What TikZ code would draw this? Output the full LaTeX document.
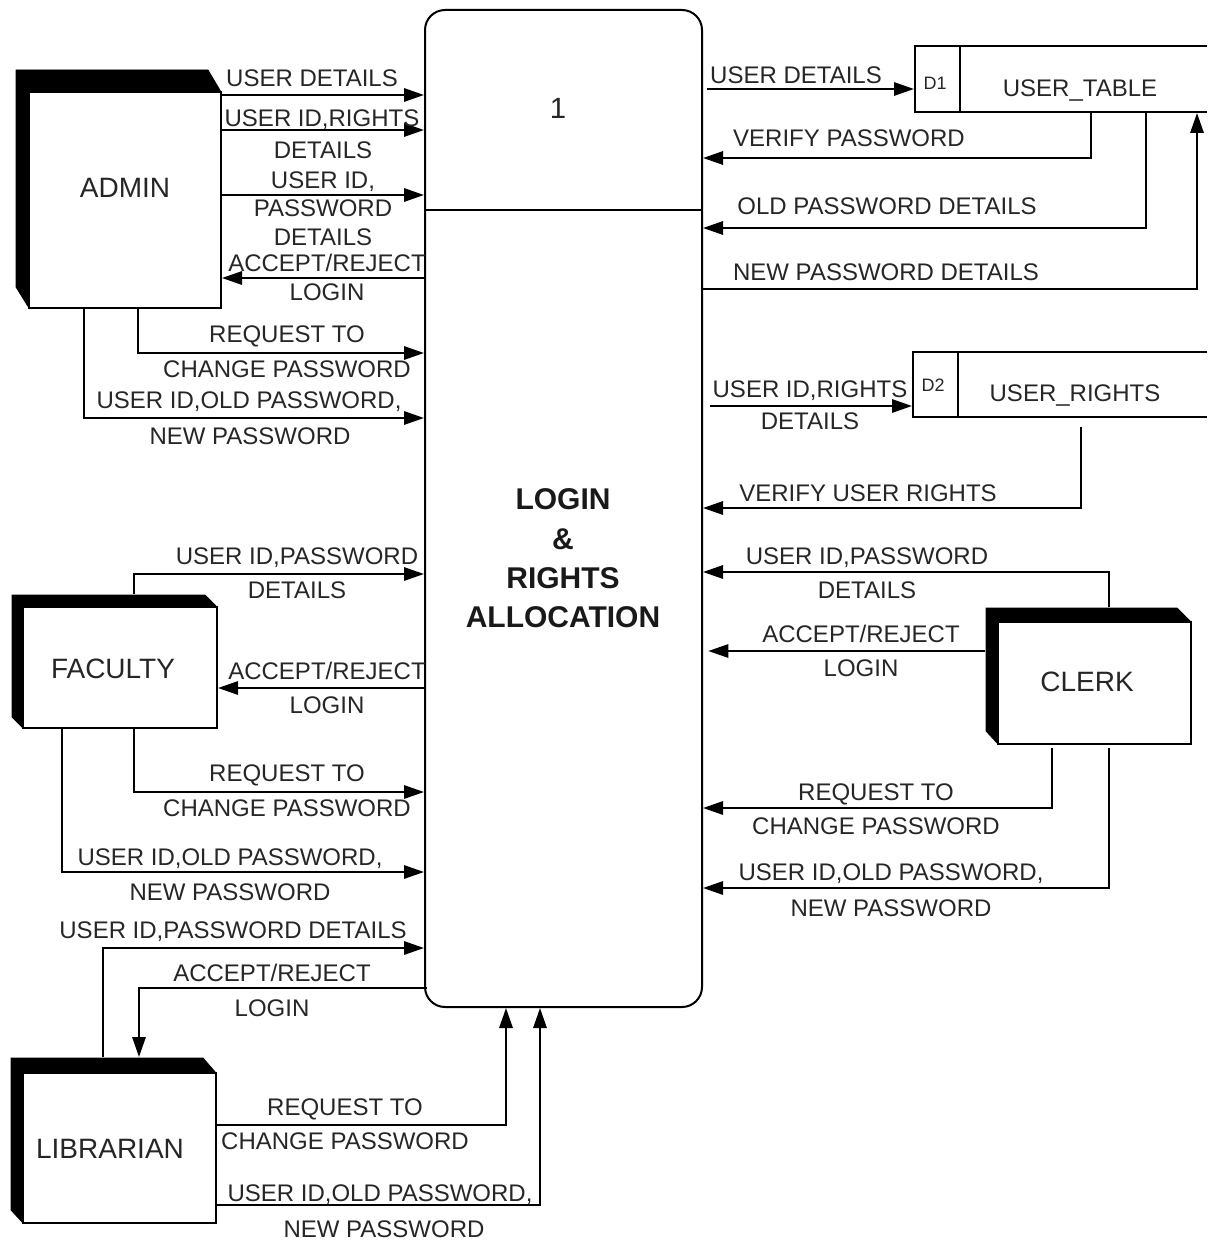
\documentclass[tikz,border=0pt]{standalone}
\usepackage{fontspec}
\setmainfont{Liberation Sans}
\usetikzlibrary{arrows.meta,fit}
\begin{document}
\begin{tikzpicture}[x=0.75pt,y=-0.75pt,
  line width=1.5pt,
  flow/.style={-{Triangle[length=15pt,width=10pt]}},
  lbl/.style={inner sep=0pt, font=\fontsize{18}{20}\selectfont, text height=12.9pt, text depth=0pt, text=black!85},
  box/.style={inner sep=0pt},
  front/.style={draw, fill=white, line width=1.3pt},
  ename/.style={inner sep=0pt, font=\fontsize{21}{24}\selectfont, text height=15pt, text depth=0pt, text=black!85},
  pnumber/.style={inner sep=0pt, font=\fontsize{22}{24}\selectfont, text height=15.8pt, text depth=0pt, text=black!85},
  ptitle/.style={inner sep=0pt, font=\bfseries\fontsize{22.5}{26}\selectfont, text height=16.2pt, text depth=0pt, text=black!90},
  sid/.style={inner sep=0pt, font=\fontsize{13.5}{15}\selectfont, text height=9.7pt, text depth=0pt, text=black!85},
  shadowfill/.style={fill=black, draw=black, line width=0.6pt, line join=miter}
]
\useasboundingbox (0,0) rectangle (1207,1241);

% ---------- process ----------
\node[fit={(425,10) (702,1007)}, inner sep=0pt, draw, rounded corners=15pt] (proc) {};
\draw (proc.west |- 0,210) -- ([xshift=-1pt]proc.east |- 0,210);
\node[pnumber] (pnum) at (558,108) {1};
\node[ptitle] (pt1) at (563,499) {LOGIN};
\node[ptitle] (pt2) at (563,539) {\&};
\node[ptitle] (pt3) at (563,578) {RIGHTS};
\node[ptitle] (pt4) at (563,617) {ALLOCATION};

% ---------- ADMIN ----------
\node[box, fit={(16,70) (221,308)}] (admin) {};
\fill[shadowfill] (16,70) -- (208,70) -- (221,92) -- (29,92) -- (29,308) -- (16,287) -- cycle;
\draw[front] (29,92) rectangle (221,308);
\node[ename] (adminl) at (125,188) {ADMIN};

\draw[flow] (admin.east |- 0,95) -- (proc.west |- 0,95);
\node[lbl] (a1) at (312,78) {USER DETAILS};
\draw[flow] (admin.east |- 0,130) -- (proc.west |- 0,130);
\node[lbl] (a2) at (322,118) {USER ID,RIGHTS};
\node[lbl] (a3) at (323,150) {DETAILS};
\draw[flow] (admin.east |- 0,195) -- (proc.west |- 0,195);
\node[lbl] (a4) at (323,180) {USER ID,};
\node[lbl] (a5) at (323,208) {PASSWORD};
\node[lbl] (a6) at (323,237) {DETAILS};
\draw[flow] (proc.west |- 0,278) -- (admin.east |- 0,278);
\node[lbl] (a7) at (327,263) {ACCEPT/REJECT};
\node[lbl] (a8) at (327,292) {LOGIN};
\draw[flow] (admin.south -| 138,0) |- (proc.west |- 0,353);
\node[lbl] (a9) at (287,334) {REQUEST TO};
\node[lbl] (a10) at (287,369) {CHANGE PASSWORD};
\draw[flow] (admin.south -| 84,0) |- (proc.west |- 0,418);
\node[lbl] (a11) at (249,400) {USER ID,OLD PASSWORD,};
\node[lbl] (a12) at (250,436) {NEW PASSWORD};

% ---------- FACULTY ----------
\node[box, fit={(12,595) (217,728)}] (fac) {};
\fill[shadowfill] (12,595) -- (205,595) -- (217,607) -- (23,607) -- (23,728) -- (12,717) -- cycle;
\draw[front] (23,607) rectangle (217,728);
\node[ename] (facl) at (113,668) {FACULTY};

\draw[flow] (fac.north -| 134,0) |- (proc.west |- 0,574);
\node[lbl] (f1) at (297,556) {USER ID,PASSWORD};
\node[lbl] (f2) at (297,590) {DETAILS};
\draw[flow] (proc.west |- 0,688) -- (fac.east |- 0,688);
\node[lbl] (f3) at (327,671) {ACCEPT/REJECT};
\node[lbl] (f4) at (327,705) {LOGIN};
\draw[flow] (fac.south -| 134,0) |- (proc.west |- 0,792);
\node[lbl] (f5) at (287,773) {REQUEST TO};
\node[lbl] (f6) at (287,808) {CHANGE PASSWORD};
\draw[flow] (fac.south -| 62,0) |- (proc.west |- 0,872);
\node[lbl] (f7) at (230,857) {USER ID,OLD PASSWORD,};
\node[lbl] (f8) at (230,892) {NEW PASSWORD};

% ---------- LIBRARIAN ----------
\node[box, fit={(11,1058) (216,1223)}] (lib) {};
\fill[shadowfill] (11,1058) -- (203,1058) -- (216,1073) -- (23,1073) -- (23,1223) -- (11,1210) -- cycle;
\draw[front] (23,1073) rectangle (216,1223);
\node[ename] (libl) at (110,1148) {LIBRARIAN};

\draw[flow] (lib.north -| 103,0) |- (proc.west |- 0,948);
\node[lbl] (l1) at (233,930) {USER ID,PASSWORD DETAILS};
\draw[flow] ([xshift=2pt]proc.west |- 0,988) -| (lib.north -| 139,0);
\node[lbl] (l2) at (272,973) {ACCEPT/REJECT};
\node[lbl] (l3) at (272,1008) {LOGIN};
\draw[flow] (lib.east |- 0,1125) -| (proc.south -| 506,0);
\node[lbl] (l4) at (345,1107) {REQUEST TO};
\node[lbl] (l5) at (345,1141) {CHANGE PASSWORD};
\draw[flow] (lib.east |- 0,1205) -| (proc.south -| 540,0);
\node[lbl] (l6) at (380,1193) {USER ID,OLD PASSWORD,};
\node[lbl] (l7) at (384,1229) {NEW PASSWORD};

% ---------- D1 ----------
\node[box, fit={(915,46) (1207,112)}] (d1) {};
\draw (1207,46) -- (915,46) -- (915,112) -- (1207,112);
\draw (960,46) -- (960,112);
\node[sid] (d1id) at (935,83) {D1};
\node[lbl] (d1n) at (1080,88) {USER\_TABLE};

\draw[flow] ([xshift=3pt]proc.east |- 0,89) -- (d1.west |- 0,89);
\node[lbl] (r1) at (796,75) {USER DETAILS};
\draw[flow] (d1.south -| 1091,0) |- (proc.east |- 0,158);
\node[lbl] (r2) at (849,138) {VERIFY PASSWORD};
\draw[flow] (d1.south -| 1146,0) |- (proc.east |- 0,228);
\node[lbl] (r3) at (887,206) {OLD PASSWORD DETAILS};
\draw[flow] (proc.east |- 0,289) -| (d1.south -| 1197,0);
\node[lbl] (r4) at (886,272) {NEW PASSWORD DETAILS};

% ---------- D2 ----------
\node[box, fit={(913,352) (1207,417)}] (d2) {};
\draw (1207,352) -- (913,352) -- (913,417) -- (1207,417);
\draw (958,352) -- (958,417);
\node[sid] (d2id) at (933,385) {D2};
\node[lbl] (d2n) at (1075,393) {USER\_RIGHTS};

\draw[flow] ([xshift=5pt]proc.east |- 0,406) -- (d2.west |- 0,406);
\node[lbl] (r5) at (810,389) {USER ID,RIGHTS};
\node[lbl] (r6) at (810,421) {DETAILS};
\draw[flow] ([yshift=-7pt]d2.south -| 1081,0) |- (proc.east |- 0,508);
\node[lbl] (r7) at (868,493) {VERIFY USER RIGHTS};

% ---------- CLERK ----------
\node[box, fit={(986,608) (1191,744)}] (clerk) {};
\fill[shadowfill] (986,608) -- (1177,608) -- (1191,622) -- (998,622) -- (998,744) -- (986,731) -- cycle;
\draw[front] (998,622) rectangle (1191,744);
\node[ename] (clerkl) at (1087,681) {CLERK};

\draw[flow] (clerk.north -| 1109,0) |- (proc.east |- 0,572);
\node[lbl] (c1) at (867,556) {USER ID,PASSWORD};
\node[lbl] (c2) at (867,590) {DETAILS};
\draw[flow] (clerk.west |- 0,651) -- ([xshift=4pt]proc.east |- 0,651);
\node[lbl] (c3) at (861,634) {ACCEPT/REJECT};
\node[lbl] (c4) at (861,668) {LOGIN};
\draw[flow] ([yshift=-2pt]clerk.south -| 1052,0) |- (proc.east |- 0,808);
\node[lbl] (c5) at (876,792) {REQUEST TO};
\node[lbl] (c6) at (876,826) {CHANGE PASSWORD};
\draw[flow] ([yshift=-2pt]clerk.south -| 1109,0) |- (proc.east |- 0,888);
\node[lbl] (c7) at (891,872) {USER ID,OLD PASSWORD,};
\node[lbl] (c8) at (891,908) {NEW PASSWORD};
\end{tikzpicture}
\end{document}
